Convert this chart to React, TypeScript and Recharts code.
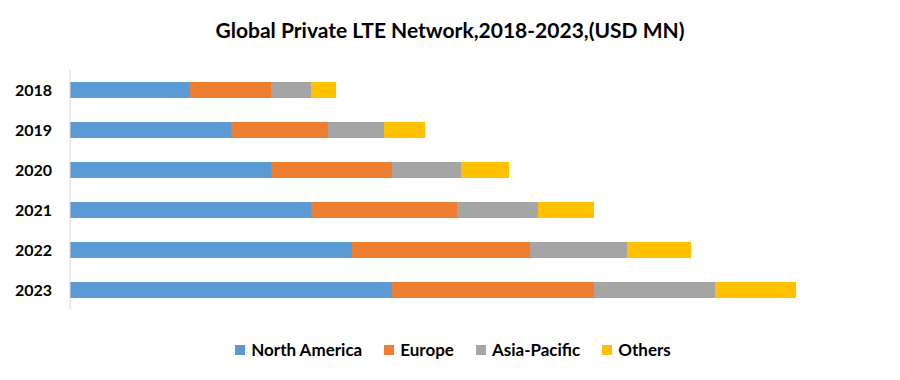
import React from "react";
import { BarChart, Bar, XAxis, YAxis } from "recharts";

const years = ["2018", "2019", "2020", "2021", "2022", "2023"];
const northAmerica = [120, 161, 201, 241, 282, 322];
const europe = [81, 97, 121, 146, 178, 202];
const asiaPacific = [40, 56, 69, 81, 97, 121];
const others = [25, 41, 48, 56, 64, 81];

const series = [
  { key: "northAmerica", name: "North America", color: "#5B9BD5" },
  { key: "europe", name: "Europe", color: "#ED7D31" },
  { key: "asiaPacific", name: "Asia-Pacific", color: "#A5A5A5" },
  { key: "others", name: "Others", color: "#FFC000" },
];

const data = years.map((year, i) => ({
  year,
  northAmerica: northAmerica[i],
  europe: europe[i],
  asiaPacific: asiaPacific[i],
  others: others[i],
}));

const FONT = "Lato, 'Open Sans', sans-serif";

export default function App() {
  return (
    <div
      style={{
        position: "absolute",
        left: 0,
        top: 0,
        width: 900,
        height: 380,
        background: "#fff",
        fontFamily: FONT,
      }}
    >
      <div
        style={{
          position: "absolute",
          top: 16,
          left: 0,
          width: 900,
          textAlign: "center",
          fontSize: 21,
          fontWeight: 700,
          color: "#000",
          lineHeight: "28px",
        }}
      >
        Global Private LTE Network,2018-2023,(USD MN)
      </div>
      <BarChart
        width={900}
        height={380}
        data={data}
        layout="vertical"
        margin={{ top: 70, right: 30, bottom: 70, left: 0 }}
        barSize={16}
      >
        <XAxis type="number" domain={[0, 800]} hide />
        <YAxis
          type="category"
          dataKey="year"
          width={70}
          tickLine={false}
          tickSize={0}
          tickMargin={18}
          axisLine={{ stroke: "#D9D9D9", strokeWidth: 1 }}
          tick={{ fill: "#000", fontSize: 16, fontWeight: 700, fontFamily: FONT }}
        />
        {series.map((s) => (
          <Bar
            key={s.key}
            dataKey={s.key}
            name={s.name}
            stackId="a"
            fill={s.color}
            isAnimationActive={false}
          />
        ))}
      </BarChart>
      <div
        style={{
          position: "absolute",
          top: 340,
          left: 0,
          width: 906,
          display: "flex",
          justifyContent: "center",
          alignItems: "center",
          gap: 22,
          fontSize: 17,
          fontWeight: 700,
          color: "#000",
        }}
      >
        {series.map((s) => (
          <div key={s.key} style={{ display: "flex", alignItems: "center" }}>
            <span
              style={{
                display: "inline-block",
                width: 10,
                height: 10,
                background: s.color,
                marginRight: 6,
              }}
            />
            <span style={{ lineHeight: "20px" }}>{s.name}</span>
          </div>
        ))}
      </div>
    </div>
  );
}
